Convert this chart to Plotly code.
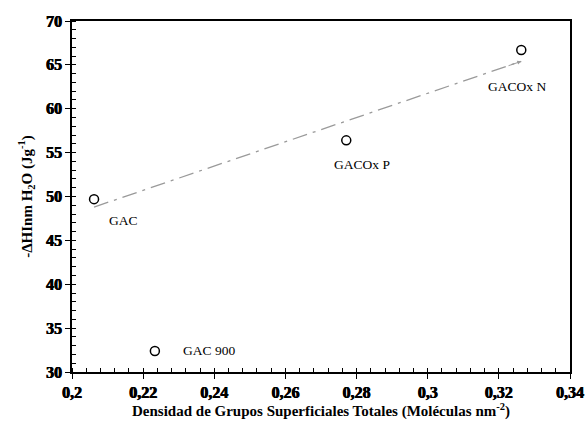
import numpy as np
import plotly.graph_objects as go

labels = ["GAC", "GAC 900", "GACOx P", "GACOx N"]
x_vals = [0.2062, 0.2233, 0.2771, 0.3263]
y_vals = [49.7, 32.4, 56.4, 66.7]
trend_idx = [0, 2, 3]

x_ticks = [0.2, 0.22, 0.24, 0.26, 0.28, 0.3, 0.32, 0.34]
x_ticktext = ["0,2", "0,22", "0,24", "0,26", "0,28", "0,3", "0,32", "0,34"]
y_ticks = [30, 35, 40, 45, 50, 55, 60, 65, 70]

FONT = "Liberation Serif"

tx = np.array([x_vals[i] for i in trend_idx])
ty = np.array([y_vals[i] for i in trend_idx])
m, b = np.polyfit(tx, ty, 1)
line_x = [tx.min(), tx.max()]
line_y = [m * v + b for v in line_x]

fig = go.Figure()
fig.add_trace(go.Scatter(
    x=line_x, y=line_y, mode="lines",
    line=dict(color="#9a9a9a", width=1.3, dash="longdashdot"),
    hoverinfo="skip", showlegend=False))
fig.add_trace(go.Scatter(
    x=x_vals, y=y_vals, mode="markers",
    marker=dict(symbol="circle-open", size=9, color="black", line=dict(width=1.5, color="black")),
    showlegend=False))

fig.add_annotation(x=line_x[1], y=line_y[1], ax=line_x[1] - 0.004, ay=m * (line_x[1] - 0.004) + b,
                   xref="x", yref="y", axref="x", ayref="y", text="", showarrow=True,
                   arrowhead=2, arrowsize=0.8, arrowwidth=1.0, arrowcolor="#9a9a9a")

offsets = [(0.0036, -2.4), (0.0074, 0.0), (0.0045, -2.7), (-0.0011, -4.2)]
xanchors = ["left", "left", "center", "center"]
for lab, xv, yv, (dx, dy), xa in zip(labels, x_vals, y_vals, offsets, xanchors):
    fig.add_annotation(x=xv + dx, y=yv + dy, text=lab, showarrow=False, xanchor=xa, yanchor="middle",
                       font=dict(family=FONT, size=13.5, color="black", weight="normal"))

tickfont = dict(family=FONT, size=16, color="black", weight="bold",
                shadow="0.5px 0px 0px black, -0.3px 0px 0px black")

fig.update_layout(
    width=587, height=423,
    margin=dict(l=72, r=17, t=21, b=51, autoexpand=False),
    paper_bgcolor="white", plot_bgcolor="white",
    font=dict(family=FONT, color="black", size=16),
    xaxis=dict(range=[0.2, 0.34], tickvals=x_ticks, ticktext=x_ticktext,
               showgrid=False, zeroline=False, showline=True, linecolor="black", linewidth=1.5,
               mirror=True, ticks="outside", ticklen=5, tickwidth=1.3, tickcolor="black",
               tickfont=tickfont, automargin=False,
               minor=dict(ticks="inside", dtick=0.004, ticklen=4, tickwidth=1, tickcolor="black"),
               title=dict(text="<b>Densidad de Grupos Superficiales Totales (Moléculas nm<sup>-2</sup>)</b>",
                          font=dict(family=FONT, size=15, color="black"), standoff=4)),
    yaxis=dict(range=[30, 70], tickvals=y_ticks,
               showgrid=False, zeroline=False, showline=True, linecolor="black", linewidth=1.5,
               mirror=True, ticks="outside", ticklen=5, tickwidth=1.3, tickcolor="black",
               tickfont=tickfont, automargin=False,
               minor=dict(ticks="inside", dtick=1, ticklen=4, tickwidth=1, tickcolor="black"),
               title=dict(text="<b>-ΔHInm H<sub>2</sub>O (Jg<sup>-1</sup>)</b>",
                          font=dict(family=FONT, size=15, color="black"), standoff=10)),
)

fig.write_html("out.html")
